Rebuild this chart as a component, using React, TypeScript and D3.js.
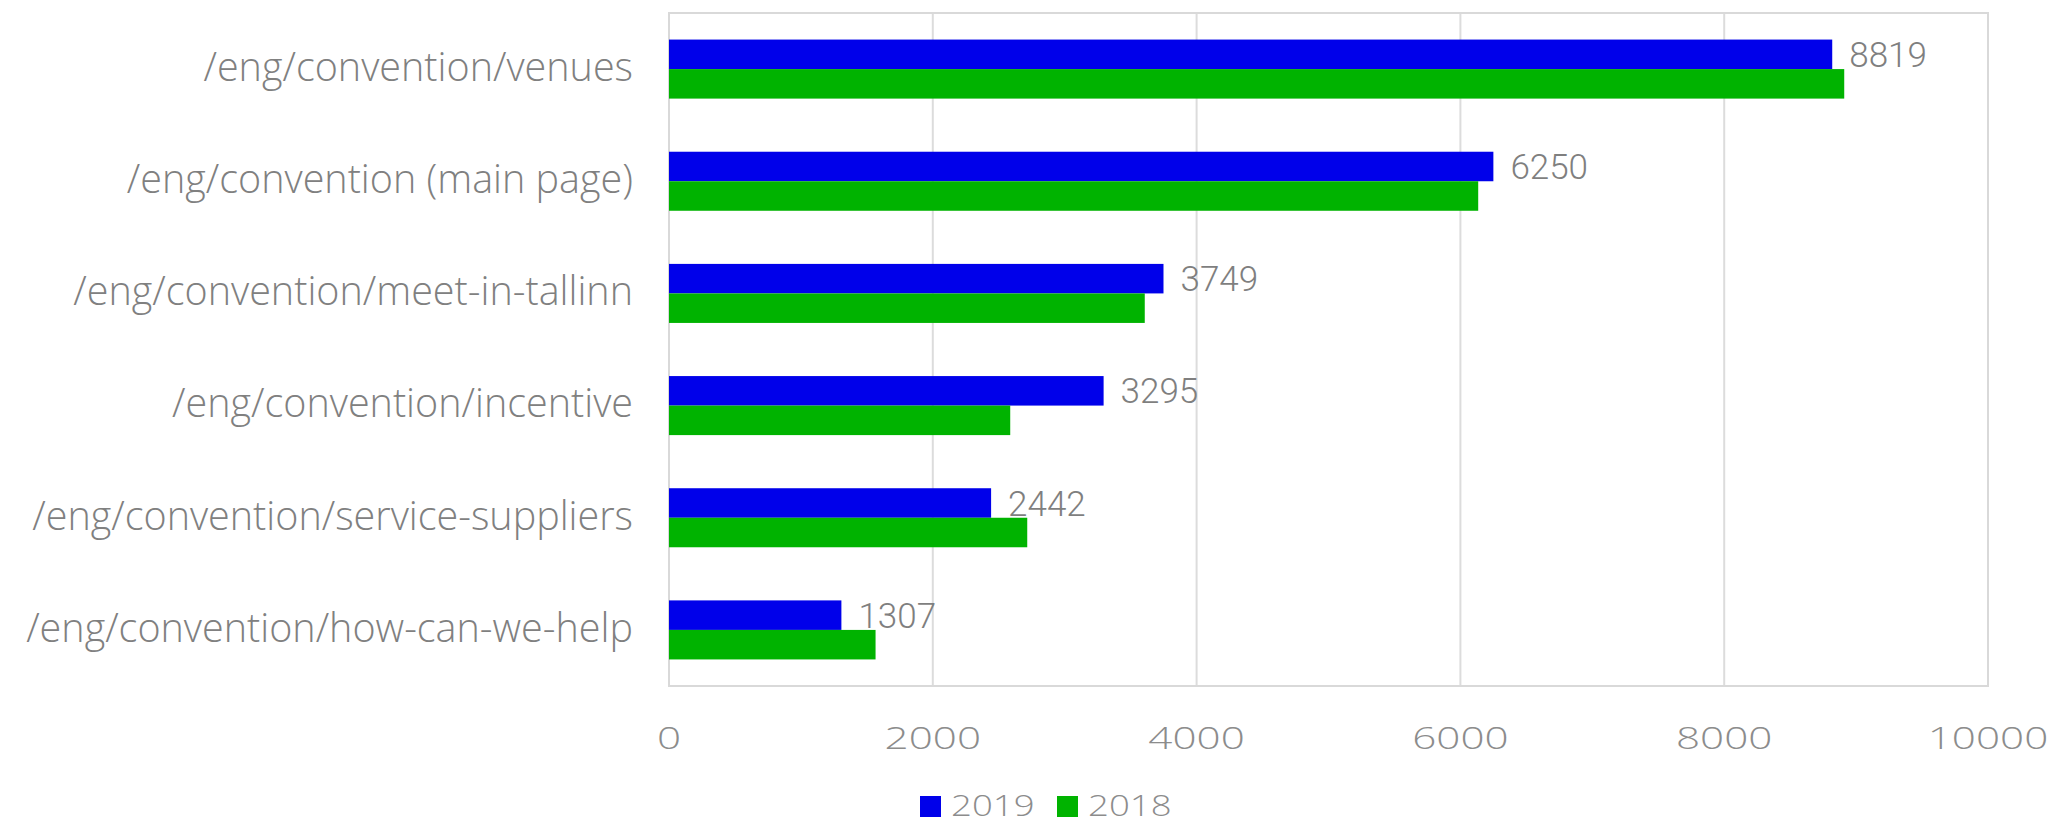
import type { FC } from "react";
import { useEffect, useRef } from "react";
import * as d3 from "d3";

// Data
const categories = [
  "/eng/convention/venues",
  "/eng/convention (main page)",
  "/eng/convention/meet-in-tallinn",
  "/eng/convention/incentive",
  "/eng/convention/service-suppliers",
  "/eng/convention/how-can-we-help",
];
const seriesNames = ["2019", "2018"];
const values2019 = [8819, 6250, 3749, 3295, 2442, 1307];
const values2018 = [8910, 6135, 3607, 2587, 2716, 1566];
const xTicks = [0, 2000, 4000, 6000, 8000, 10000];

const colors: Record<string, string> = { "2019": "#0000ea", "2018": "#00b300" };

const App: FC = () => {
  const ref = useRef<SVGSVGElement | null>(null);

  useEffect(() => {
    if (!ref.current) return;
    d3.select(ref.current).selectAll("*").remove();

    const width = 2049;
    const height = 825;
    const plot = { left: 669, right: 1988, top: 13, bottom: 686 };

    const svg = d3.select(ref.current).attr("width", width).attr("height", height);

    const x = d3.scaleLinear().domain([0, 10000]).range([plot.left, plot.right]);
    const y = d3
      .scaleBand<string>()
      .domain(categories)
      .range([plot.top, plot.bottom])
      .padding(0);
    const inner = d3
      .scaleBand<string>()
      .domain(seriesNames)
      .range([0, y.bandwidth()])
      .paddingInner(0)
      .paddingOuter(0.9);

    const rows = categories.map((c, i) => ({
      cat: c,
      "2019": values2019[i],
      "2018": values2018[i],
    }));

    // grid lines
    svg
      .append("g")
      .selectAll("line")
      .data(xTicks)
      .join("line")
      .attr("x1", (d) => x(d))
      .attr("x2", (d) => x(d))
      .attr("y1", plot.top)
      .attr("y2", plot.bottom)
      .attr("stroke", "#dcdcdc")
      .attr("stroke-width", 2);

    // plot border
    svg
      .append("rect")
      .attr("x", plot.left)
      .attr("y", plot.top)
      .attr("width", plot.right - plot.left)
      .attr("height", plot.bottom - plot.top)
      .attr("fill", "none")
      .attr("stroke", "#d9d9d9")
      .attr("stroke-width", 2);

    // bars
    const groups = svg
      .append("g")
      .selectAll("g")
      .data(rows)
      .join("g")
      .attr("transform", (d) => `translate(0,${y(d.cat)})`);

    groups
      .selectAll("rect")
      .data((d) => seriesNames.map((s) => ({ s, v: (d as any)[s] as number })))
      .join("rect")
      .attr("x", x(0))
      .attr("y", (d) => inner(d.s)!)
      .attr("width", (d) => x(d.v) - x(0))
      .attr("height", inner.bandwidth())
      .attr("fill", (d) => colors[d.s]);

    // value labels (2019 only)
    groups
      .append("text")
      .attr("x", (d) => x(d["2019"]) + 17)
      .attr("y", inner("2019")! + inner.bandwidth() / 2)
      .attr("dy", "0.36em")
      .attr("font-family", "Roboto, sans-serif")
      .attr("font-weight", 300)
      .attr("font-size", 35)
      .attr("fill", "#7f7f7f")
      .text((d) => d["2019"]);

    // category labels
    svg
      .append("g")
      .selectAll("text")
      .data(categories)
      .join("text")
      .attr("x", 633)
      .attr("y", (d) => y(d)! + y.bandwidth() / 2)
      .attr("dy", "0.3em")
      .attr("text-anchor", "end")
      .attr("font-family", "'Open Sans', sans-serif")
      .attr("font-weight", 300)
      .attr("font-size", 39.5)
      .attr("fill", "#808080")
      .text((d) => d);

    // x tick labels (wide face, stretched horizontally)
    svg
      .append("g")
      .selectAll("g")
      .data(xTicks)
      .join("g")
      .attr("transform", (d) => `translate(${x(d)},749) scale(1.32,1)`)
      .append("text")
      .attr("text-anchor", "middle")
      .attr("font-family", "'Open Sans', sans-serif")
      .attr("font-weight", 300)
      .attr("font-size", 32)
      .attr("fill", "#8c8c8c")
      .text((d) => d);

    // legend
    const legendX = [920, 1057];
    const legend = svg
      .append("g")
      .selectAll("g")
      .data(seriesNames)
      .join("g")
      .attr("transform", (d, i) => `translate(${legendX[i]},796)`);
    legend
      .append("rect")
      .attr("width", 21)
      .attr("height", 21)
      .attr("fill", (d) => colors[d]);
    legend
      .append("g")
      .attr("transform", "translate(31,20) scale(1.22,1)")
      .append("text")
      .attr("font-family", "'Open Sans', sans-serif")
      .attr("font-weight", 300)
      .attr("font-size", 30)
      .attr("fill", "#8c8c8c")
      .text((d) => d);
  }, []);

  return (
    <svg
      ref={ref}
      style={{ position: "absolute", left: 0, top: 0, background: "#fff" }}
    ></svg>
  );
};

export default App;
